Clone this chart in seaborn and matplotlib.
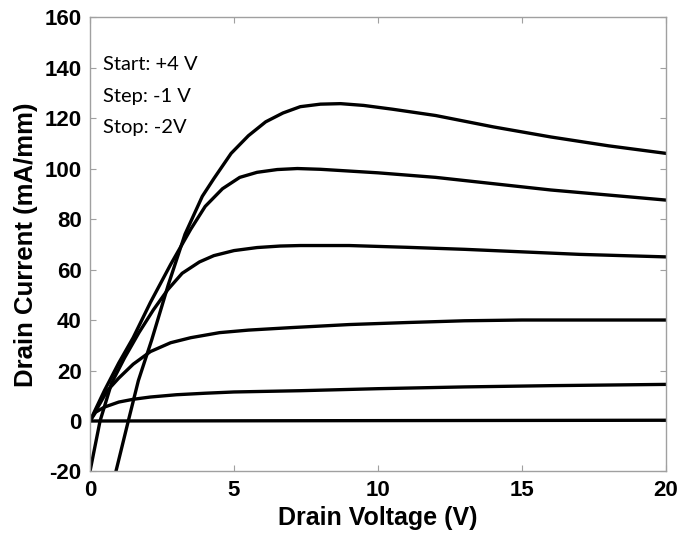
import matplotlib
matplotlib.use("Agg")
import matplotlib.pyplot as plt
import seaborn as sns
import pandas as pd

# Gate-voltage sweep curves: drain voltage (V) vs drain current (mA/mm)
vg_p4_x = [0.9, 1.33, 1.68, 2.14, 2.72, 3.3, 3.9, 4.3, 4.9, 5.5, 6.1, 6.7, 7.3, 8.0, 8.7, 9.5, 10.5, 12, 14, 16, 18, 20]
vg_p4_y = [-20, 0, 16, 32, 54, 74, 89, 96, 106, 113, 118.5, 122, 124.5, 125.5, 125.7, 125, 123.5, 121, 116.5, 112.5, 109, 106]

vg_p3_x = [0, 0.5, 1.0, 1.5, 2.1, 2.8, 3.5, 4.0, 4.6, 5.2, 5.8, 6.5, 7.2, 8.0, 9, 10, 12, 14, 16, 18, 20]
vg_p3_y = [0, 12, 23, 33, 47, 62, 76, 85, 92, 96.5, 98.5, 99.6, 100, 99.7, 99, 98.3, 96.5, 94, 91.5, 89.5, 87.5]

vg_p2_x = [0, 0.35, 0.75, 1.2, 1.7, 2.2, 2.7, 3.2, 3.8, 4.3, 5.0, 5.8, 6.6, 7.3, 9, 11, 13, 15, 17, 20]
vg_p2_y = [-20, 0, 15, 25, 35, 44, 52, 58.5, 63, 65.5, 67.5, 68.7, 69.3, 69.5, 69.5, 68.8, 68, 67, 66, 65]

vg_p1_x = [0, 0.3, 0.6, 1.0, 1.5, 2.1, 2.8, 3.5, 4.5, 5.5, 7, 9, 11, 13, 15, 20]
vg_p1_y = [0, 6, 12, 17, 22.5, 27.5, 31, 33, 35, 36, 37, 38.2, 39, 39.7, 40, 40]

vg_0_x = [0, 0.2, 0.5, 1.0, 1.5, 2.1, 3, 4, 5, 7.3, 10, 13, 16, 20]
vg_0_y = [0, 3.5, 5.5, 7.5, 8.6, 9.5, 10.4, 11, 11.5, 12, 12.8, 13.5, 14, 14.5]

vg_m1_x = [0, 20]
vg_m1_y = [0, 0.3]

curves = {
    "+4 V": (vg_p4_x, vg_p4_y),
    "+3 V": (vg_p3_x, vg_p3_y),
    "+2 V": (vg_p2_x, vg_p2_y),
    "+1 V": (vg_p1_x, vg_p1_y),
    "0 V": (vg_0_x, vg_0_y),
    "-1 V": (vg_m1_x, vg_m1_y),
}

x_ticks = [0, 5, 10, 15, 20]
y_ticks = [-20, 0, 20, 40, 60, 80, 100, 120, 140, 160]
annotation_lines = ["Start: +4 V", "Step: -1 V", "Stop: -2V"]

rows = []
for name, (xs, ys) in curves.items():
    for i, (xv, yv) in enumerate(zip(xs, ys)):
        rows.append({"Vg": name, "order": i, "Vd": xv, "Id": yv})
df = pd.DataFrame(rows)

sns.set_style("white")
plt.rcParams["font.family"] = ["Liberation Sans", "DejaVu Sans"]
plt.rcParams["text.color"] = "black"
plt.rcParams["axes.labelcolor"] = "black"
plt.rcParams["xtick.labelcolor"] = "black"
plt.rcParams["ytick.labelcolor"] = "black"

fig = plt.figure(figsize=(6.79, 5.33), dpi=100)
ax = fig.add_axes([0.1325, 0.1154, 0.8485, 0.8526])

sns.lineplot(data=df, x="Vd", y="Id", hue="Vg", units="Vg", estimator=None,
             sort=False, palette=["black"] * len(curves), linewidth=2.4,
             legend=False, ax=ax)

ax.set_xlim(0, 20)
ax.set_ylim(-20, 160)
ax.set_xticks(x_ticks)
ax.set_yticks(y_ticks)
ax.set_xticklabels([str(t) for t in x_ticks], fontsize=16, fontweight="bold", color="black")
ax.set_yticklabels([str(t) for t in y_ticks], fontsize=16, fontweight="bold", color="black")
ax.tick_params(direction="in", length=4, width=0.8, color="#a0a0a0",
               labelcolor="black",
               top=True, right=True, bottom=True, left=True)
ax.tick_params(axis="y", pad=6)
ax.tick_params(axis="x", pad=6)
for s in ax.spines.values():
    s.set_color("#a0a0a0")
    s.set_linewidth(1.0)

ax.set_xlabel("Drain Voltage (V)", fontsize=18, fontweight="bold", labelpad=4, color="black")
ax.set_ylabel("Drain Current (mA/mm)", fontsize=18.5, fontweight="bold", labelpad=5, color="black")

for i, line in enumerate(annotation_lines):
    ax.text(0.022, 0.895 - i * 0.069, line, transform=ax.transAxes, color="black",
            fontsize=14.5, family=["Lato", "DejaVu Sans"], va="center", ha="left")

fig.savefig("out.png", dpi=100)
